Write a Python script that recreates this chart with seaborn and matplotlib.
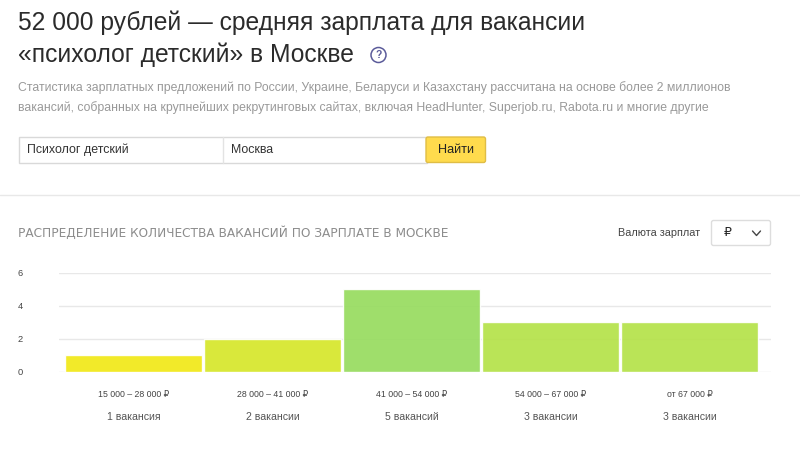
import matplotlib
matplotlib.use("Agg")
import matplotlib.pyplot as plt
import seaborn as sns
from matplotlib.patches import FancyBboxPatch, Rectangle, Circle

salary_ranges = ["15 000 – 28 000 ₽", "28 000 – 41 000 ₽", "41 000 – 54 000 ₽", "54 000 – 67 000 ₽", "от 67 000 ₽"]
vacancy_counts = [1, 2, 5, 3, 3]
vacancy_labels = ["1 вакансия", "2 вакансии", "5 вакансий", "3 вакансии", "3 вакансии"]
bar_colors = ["#f2e918", "#d6e72c", "#98dc60", "#b5e24a", "#b5e24a"]
y_ticks = [0, 2, 4, 6]

sns.set_theme(style="white")
plt.rcParams["font.family"] = ["Liberation Sans", "DejaVu Sans"]

fig = plt.figure(figsize=(8, 4.51), dpi=100, facecolor="white")

# page furniture, in pixel coordinates
page = fig.add_axes([0, 0, 1, 1])
page.set_xlim(0, 800)
page.set_ylim(451, 0)
page.axis("off")

page.text(18, 22.5, "52 000 рублей — средняя зарплата для вакансии", fontsize=17.7, color="#2b2b2b", va="center")
page.text(18, 54.5, "«психолог детский» в Москве", fontsize=17.7, color="#2b2b2b", va="center")
page.add_patch(Circle((378.5, 55), 7.5, fill=False, ec="#5b5b9a", lw=1.1))
page.text(378.5, 55, "?", fontsize=7.5, color="#5b5b9a", ha="center", va="center", fontweight="bold")

page.text(18, 88, "Статистика зарплатных предложений по России, Украине, Беларуси и Казахстану рассчитана на основе более 2 миллионов",
          fontsize=8.85, color="#999999", va="center")
page.text(18, 108, "вакансий, собранных на крупнейших рекрутинговых сайтах, включая HeadHunter, Superjob.ru, Rabota.ru и многие другие",
          fontsize=8.8, color="#999999", va="center")

# search form
page.add_patch(Rectangle((18.5, 137), 408, 25.5, fc="white", ec="#d9d9d9", lw=1))
page.plot([222.5, 222.5], [137, 162.5], color="#e3e3e3", lw=1)
page.text(27, 150, "Психолог детский", fontsize=8.9, color="#333333", va="center")
page.text(231, 150, "Москва", fontsize=8.9, color="#333333", va="center")
page.add_patch(FancyBboxPatch((426, 137), 59.5, 25.5, boxstyle="round,pad=0,rounding_size=2", fc="#ffdb4d", ec="#e0bd45", lw=1))
page.text(456, 150, "Найти", fontsize=9.05, color="#222222", ha="center", va="center")

page.plot([0, 800], [195, 195], color="#e8e8e8", lw=1)

# DejaVu's wide caps stand in for the letter-spaced heading
page.text(18, 233, "РАСПРЕДЕЛЕНИЕ КОЛИЧЕСТВА ВАКАНСИЙ ПО ЗАРПЛАТЕ В МОСКВЕ", fontsize=8.78, family="DejaVu Sans",
          color="#8c8c8c", va="center")
page.text(618, 232.5, "Валюта зарплат", fontsize=7.8, color="#444444", va="center")
page.add_patch(FancyBboxPatch((711.5, 220.5), 59, 25, boxstyle="round,pad=0,rounding_size=2", fc="white", ec="#dddddd", lw=1))
page.text(728, 233, "₽", fontsize=9, color="#222222", ha="center", va="center")
page.plot([752.5, 756.5, 760.5], [231, 235.5, 231], color="#444444", lw=1)

# histogram
ax = fig.add_axes([59 / 800, (451 - 371.5) / 451, 712 / 800, 98.5 / 451], facecolor="none")
sns.barplot(x=salary_ranges, y=vacancy_counts, hue=salary_ranges, palette=bar_colors, dodge=False,
            width=0.985, legend=False, saturation=1, alpha=0.93, zorder=3, ax=ax)
ax.set_xlim(-0.535, 4.583)
ax.set_ylim(0, 6)
ax.set_yticks(y_ticks)
ax.set_yticklabels(y_ticks, fontsize=6.7, color="#444444")
ax.set_xticks(range(len(salary_ranges)))
ax.set_xticklabels(salary_ranges, fontsize=6.35, color="#444444")
ax.tick_params(axis="y", length=0, pad=26)
ax.tick_params(axis="x", length=0, pad=13)
ax.grid(axis="y", color="#e8e8e8", lw=1, zorder=0)
ax.set_axisbelow(True)
sns.despine(ax=ax, left=True, bottom=True, right=True, top=True)
ax.set_xlabel("")
ax.set_ylabel("")
ax.patch.set_visible(False)

for i, label in enumerate(vacancy_labels):
    ax.annotate(label, xy=(i, 0), xycoords=("data", "axes fraction"), xytext=(0, -29.5), textcoords="offset points",
                fontsize=7.6, color="#555555", ha="center", va="top")

fig.savefig("out.png", dpi=100)
